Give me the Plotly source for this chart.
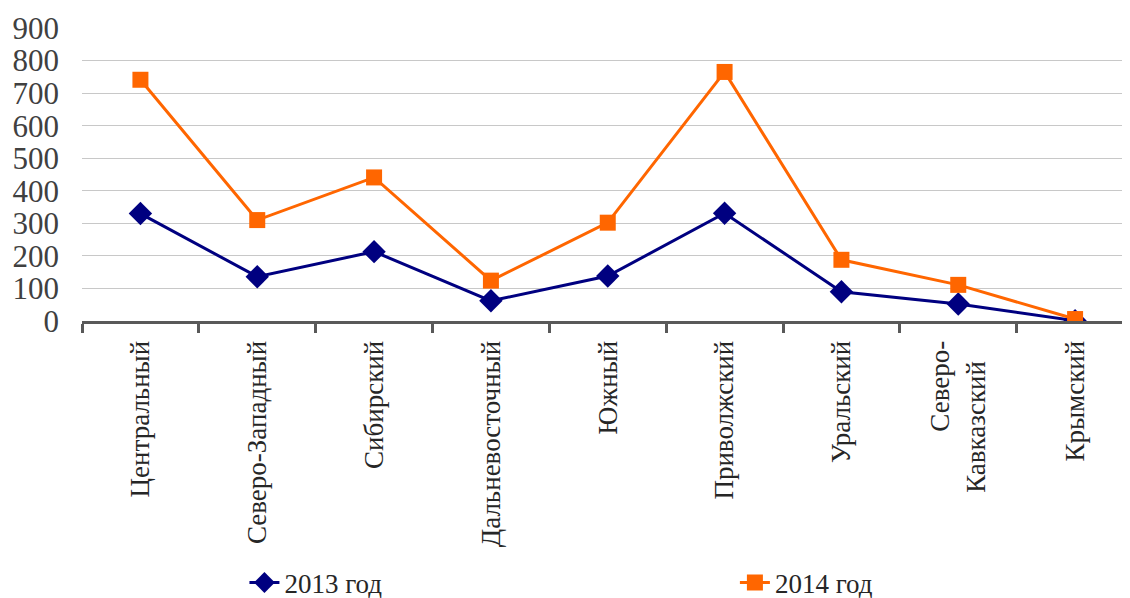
import plotly.graph_objects as go

categories = ["Центральный", "Северо-Западный", "Сибирский", "Дальневосточный",
              "Южный", "Приволжский", "Уральский", "Северо-<br>Кавказский\u00a0\u00a0\u00a0", "Крымский"]
values_2013 = [330, 136, 213, 62, 138, 331, 90, 52, 1]
values_2014 = [741, 310, 441, 124, 302, 765, 188, 111, 6]
y_ticks = [0, 100, 200, 300, 400, 500, 600, 700, 800, 900]

FONT = "'Liberation Serif', 'Times New Roman', Times, 'DejaVu Serif', serif"

fig = go.Figure()
fig.add_trace(go.Scatter(
    x=categories, y=values_2013, name="2013 год", mode="lines+markers",
    line=dict(color="#000080", width=3),
    marker=dict(symbol="diamond", size=18, color="#000080"),
    legend="legend",
))
fig.add_trace(go.Scatter(
    x=categories, y=values_2014, name="2014 год", mode="lines+markers",
    line=dict(color="#FF6600", width=3),
    marker=dict(symbol="square", size=16, color="#FF6600"),
    legend="legend2",
))

legend_common = dict(
    orientation="h", xanchor="left", y=-0.894, yanchor="middle",
    font=dict(family=FONT, size=27, color="#262626"),
    bgcolor="rgba(0,0,0,0)",
)

fig.update_layout(
    width=1122, height=590,
    margin=dict(l=74, r=0, t=20, b=277, autoexpand=False),
    plot_bgcolor="white", paper_bgcolor="white",
    font=dict(family=FONT, color="#262626"),
    showlegend=True,
    legend=dict(x=0.155, **legend_common),
    legend2=dict(x=0.623, **legend_common),
)
fig.update_xaxes(
    type="category", range=[-0.5, 8.47], automargin=False,
    tickangle=-90, tickson="boundaries",
    ticks="outside", ticklen=9, tickwidth=2.5, tickcolor="#595959",
    showline=True, linecolor="#595959", linewidth=3,
    showgrid=False,
    tickfont=dict(family=FONT, size=27, color="#262626"),
    ticklabelstandoff=6,
)
fig.update_yaxes(
    range=[0, 900], tickvals=y_ticks, automargin=False,
    showgrid=True, gridcolor="#c8c8c8", gridwidth=1.2,
    zeroline=False, showline=False, ticks="",
    tickfont=dict(family=FONT, size=31, color="#404040"),
    ticklabelstandoff=22,
)

fig.write_html("out.html")
